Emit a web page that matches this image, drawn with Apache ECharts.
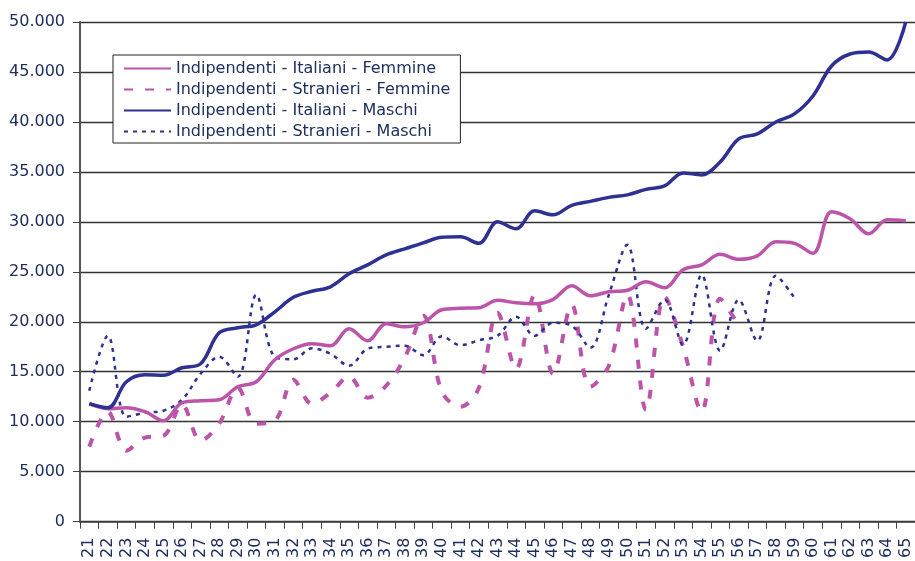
<!DOCTYPE html>
<html>
<head>
<meta charset="utf-8">
<script src="https://cdn.jsdelivr.net/npm/echarts@6/dist/echarts.min.js"></script>
<style>
  html, body { margin: 0; padding: 0; background: #ffffff; }
  #chart { width: 915px; height: 561px; }
</style>
</head>
<body>
<div id="chart"></div>
<script>
const categories = ['21','22','23','24','25','26','27','28','29','30','31','32','33','34','35','36','37','38','39','40','41','42','43','44','45','46','47','48','49','50','51','52','53','54','55','56','57','58','59','60','61','62','63','64','65'];

const seriesNames = [
  'Indipendenti - Italiani - Femmine',
  'Indipendenti - Stranieri - Femmine',
  'Indipendenti - Italiani - Maschi',
  'Indipendenti - Stranieri - Maschi'
];

const italianiFemmine = [11800,11300,11400,11000,10100,11900,12100,12200,13500,14000,16200,17300,17800,17600,19300,18100,19800,19500,19900,21200,21350,21400,22150,21900,21800,22250,23600,22600,23000,23150,24000,23400,25200,25700,26750,26250,26600,28000,27850,26850,31000,30300,28800,30200,30100];

const stranieriFemmine = [7500,11000,7100,8400,8600,11700,8100,9800,13400,9800,10100,14200,11800,12900,14500,12400,13600,16400,20600,13000,11500,13400,20900,15300,22700,14800,21700,13500,15600,22700,11200,22500,17500,11000,22300,19600,null,null,null,null,null,null,null,null,null];

const italianiMaschi = [11800,11400,14000,14700,14650,15400,15800,18900,19400,19700,21000,22450,23050,23500,24800,25700,26700,27300,27900,28450,28500,27850,30000,29300,31100,30700,31650,32050,32450,32700,33250,33600,34900,34700,36000,38300,38800,40000,40800,42600,45600,46800,47000,46200,50000];

const stranieriMaschi = [13100,18600,10500,10900,11100,12200,14800,16500,14500,22700,16500,16250,17350,16800,15600,17300,17500,17600,16650,18550,17650,18150,18600,20500,18600,19900,19600,17400,22700,27700,19300,22200,17700,24700,17100,22200,18100,24600,22400,null,null,null,null,null,null];

const PINK = '#BC55AA';
const NAVY = '#2E3192';
const TEXT = '#1F3060';
const FONT = 'DejaVu Sans';
const SMOOTH = 0.35;

function fmt(v) {
  return String(v).replace(/\B(?=(\d{3})+(?!\d))/g, '.');
}

const chart = echarts.init(document.getElementById('chart'), null, { renderer: 'canvas' });

chart.setOption({
  animation: false,
  backgroundColor: '#ffffff',
  grid: { left: 80, top: 22, width: 840, bottom: 35, containLabel: false },
  legend: {
    orient: 'vertical',
    left: 113,
    top: 55,
    padding: [4, 10, 2, 10],
    itemWidth: 47,
    itemHeight: 14,
    itemGap: 2,
    backgroundColor: '#ffffff',
    borderColor: '#222222',
    borderWidth: 1,
    selectedMode: false,
    itemStyle: { color: 'rgba(0,0,0,0)', borderWidth: 0, opacity: 0 },
    textStyle: { fontFamily: FONT, fontSize: 16, color: TEXT, lineHeight: 19 },
    data: seriesNames
  },
  xAxis: {
    type: 'category',
    data: categories,
    boundaryGap: true,
    axisLine: { show: true, lineStyle: { color: '#404040', width: 1.5 } },
    axisTick: { show: true, length: 7, lineStyle: { color: '#404040', width: 1 } },
    axisLabel: { interval: 0, rotate: 90, margin: 16, fontFamily: FONT, fontSize: 16, color: TEXT },
    splitLine: { show: false }
  },
  yAxis: {
    type: 'value',
    min: 0,
    max: 50000,
    interval: 5000,
    axisLine: { show: true, lineStyle: { color: '#555555', width: 2 } },
    axisTick: { show: true, length: 7, lineStyle: { color: '#404040', width: 1 } },
    axisLabel: { margin: 15, fontFamily: FONT, fontSize: 16, color: TEXT, formatter: fmt },
    splitLine: { show: true, lineStyle: { color: '#333333', width: 1.3 } }
  },
  series: [
    {
      name: seriesNames[0], type: 'line', data: italianiFemmine, smooth: SMOOTH,
      symbol: 'none', lineStyle: { color: PINK, width: 3.5 }, itemStyle: { color: PINK }, z: 3
    },
    {
      name: seriesNames[1], type: 'line', data: stranieriFemmine, smooth: SMOOTH,
      symbol: 'none', lineStyle: { color: PINK, width: 4, type: [9, 12] }, itemStyle: { color: PINK }, z: 2
    },
    {
      name: seriesNames[2], type: 'line', data: italianiMaschi, smooth: SMOOTH,
      symbol: 'none', lineStyle: { color: NAVY, width: 3.5 }, itemStyle: { color: NAVY }, z: 4
    },
    {
      name: seriesNames[3], type: 'line', data: stranieriMaschi, smooth: SMOOTH,
      symbol: 'none', lineStyle: { color: NAVY, width: 2.5, type: [4, 5] }, itemStyle: { color: NAVY }, z: 2
    }
  ]
});
</script>
</body>
</html>
